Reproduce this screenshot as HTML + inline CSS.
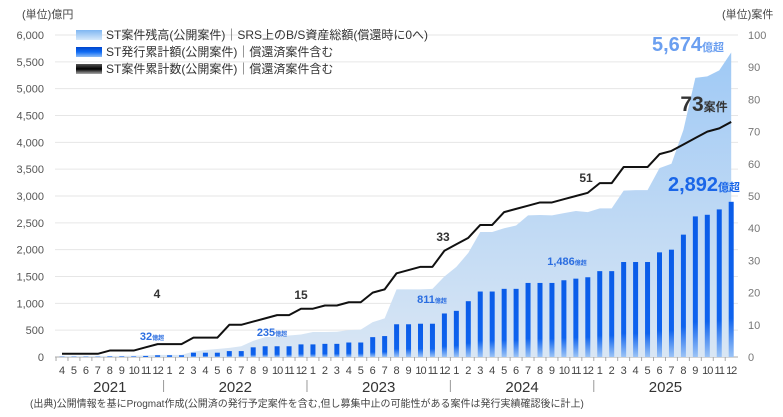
<!DOCTYPE html>
<html><head><meta charset="utf-8">
<style>
body{margin:0;background:#fff;}
svg text{font-family:"Liberation Sans","Noto Sans CJK JP",sans-serif;}
</style></head>
<body>
<svg id="chart" width="783" height="412" viewBox="0 0 783 412" xmlns="http://www.w3.org/2000/svg">
<defs>
<linearGradient id="gArea" x1="0" y1="0" x2="0" y2="1"><stop offset="0" stop-color="#9fc9f5"/><stop offset="1" stop-color="#d9e6f4"/></linearGradient>
<linearGradient id="gBar" x1="0" y1="0" x2="0" y2="1"><stop offset="0" stop-color="#0a5ce8"/><stop offset="0.75" stop-color="#0e63ee"/><stop offset="1" stop-color="#9cc4f6"/></linearGradient>
<linearGradient id="gL1" x1="0" y1="0" x2="0" y2="1"><stop offset="0" stop-color="#7fb6f2"/><stop offset="1" stop-color="#d6e9fb"/></linearGradient>
<linearGradient id="gL2" x1="0" y1="0" x2="0" y2="1"><stop offset="0" stop-color="#0044cc"/><stop offset="0.5" stop-color="#0f6cf5"/><stop offset="1" stop-color="#8cbcf6"/></linearGradient>
<linearGradient id="gL3" x1="0" y1="0" x2="0" y2="1"><stop offset="0" stop-color="#555"/><stop offset="0.5" stop-color="#000"/><stop offset="1" stop-color="#aaa"/></linearGradient>
</defs>
<g id="grid"></g>
<g id="area"></g>
<g id="bars"></g>
<g id="line"></g>
<g id="axes"></g>
<g id="labels"></g>
<text x="22" y="18" font-size="11" fill="#444">(単位)億円</text>
<text x="722" y="18" font-size="11" fill="#444">(単位)案件</text>
<g>
<rect x="76" y="30" width="26" height="10" fill="url(#gL1)"/>
<text x="106" y="39" font-size="12" fill="#333">ST案件残高(公開案件)｜SRS上のB/S資産総額(償還時に0へ)</text>
<rect x="76" y="47" width="26" height="10" fill="url(#gL2)"/>
<text x="106" y="56" font-size="12" fill="#333">ST発行累計額(公開案件)｜償還済案件含む</text>
<rect x="76" y="64" width="26" height="10" fill="url(#gL3)"/>
<text x="106" y="73" font-size="12" fill="#333">ST案件累計数(公開案件)｜償還済案件含む</text>
</g>
<text x="30" y="407" font-size="10" fill="#444">(出典)公開情報を基にProgmat作成(公開済の発行予定案件を含む,但し募集中止の可能性がある案件は発行実績確認後に計上)</text>
</svg>
<script>
const months = [4,5,6,7,8,9,10,11,12,1,2,3,4,5,6,7,8,9,10,11,12,1,2,3,4,5,6,7,8,9,10,11,12,1,2,3,4,5,6,7,8,9,10,11,12,1,2,3,4,5,6,7,8,9,10,11,12];
const years = ["2021","2022","2023","2024","2025"];
const issuance = [5,5,5,5,10,10,10,20,32, 32,32,80,80,80,110,110,180,200,200,200,235, 235,245,245,270,270,370,390,610,610,620,620,811, 860,1040,1220,1220,1270,1270,1380,1380,1380,1430,1460,1486, 1600,1600,1770,1770,1770,1950,2000,2280,2620,2650,2750,2892];
const outstanding = [20,20,20,20,20,20,25,30,40, 40,40,100,130,150,170,200,300,370,380,400,420, 465,465,470,500,510,650,720,1260,1260,1260,1270,1500, 1680,1940,2330,2330,2400,2450,2640,2645,2640,2680,2720,2700, 2770,2770,3100,3110,3110,3520,3600,4230,5200,5230,5340,5674];
const counts = [1,1,1,1,2,2,2,3,4, 4,4,6,6,6,10,10,11,12,13,13,15, 15,16,16,17,17,20,21,26,27,28,28,33, 35,37,41,41,45,46,47,48,48,49,50,51, 54,54,59,59,59,63,64,66,68,70,71,73];
const leftTicks = [0,500,1000,1500,2000,2500,3000,3500,4000,4500,5000,5500,6000];
const rightTicks = [0,10,20,30,40,50,60,70,80,90,100];

const NS="http://www.w3.org/2000/svg";
const X0=62, STEP=11.95, Y0=357, Y1=35;
const x = i => X0 + i*STEP;
const yL = v => Y0 - v/6000*(Y0-Y1);
const yR = v => Y0 - v/100*(Y0-Y1);
function mk(tag, attrs, parent){const e=document.createElementNS(NS,tag);for(const k in attrs)e.setAttribute(k,attrs[k]);document.getElementById(parent).appendChild(e);return e;}

leftTicks.forEach(t=>{
  const g=mk('line',{x1:55,x2:738,y1:yL(t),y2:yL(t),stroke:t===0?'#aaa':'#e6e6e6','stroke-width':1},'grid');
  
  
  const tx=mk('text',{x:44,y:yL(t)+4,'font-size':11,fill:'#555','text-anchor':'end'},'axes');
  tx.textContent=t.toLocaleString('en-US');
  
  
});
rightTicks.forEach(t=>{
  const tx=mk('text',{x:748,y:yR(t)+4,'font-size':11,fill:'#777'},'axes');
  tx.textContent=t;
  
  
});
// area
let d='M'+x(0)+','+Y0;
outstanding.forEach((v,i)=>{d+=' L'+x(i)+','+yL(v);});
d+=' L'+x(outstanding.length-1)+','+Y0+' Z';
const ar=mk('path',{d:d,fill:'url(#gArea)'},'area');


// bars
issuance.forEach((v,i)=>{
  const b=mk('rect',{x:x(i)-2.5,y:yL(v),width:5,height:Y0-yL(v),fill:'url(#gBar)'},'bars');
  
  
});
// line
const pts=counts.map((v,i)=>x(i)+','+yR(v)).join(' ');
const ln=mk('polyline',{points:pts,fill:'none',stroke:'#111','stroke-width':2,'stroke-linejoin':'round'},'line');


// x axis
months.forEach((m,i)=>{
  const tk=mk('line',{x1:x(i)-STEP/2,x2:x(i)-STEP/2,y1:Y0,y2:Y0+4,stroke:'#aaa'},'axes');
  
  
  const t=mk('text',{x:x(i),y:374,'font-size':11,fill:'#444','text-anchor':'middle','letter-spacing':m>9?'-1':'0'},'axes');
  t.textContent=m;
  
  
});
const yStart=[0,9,21,33,45], yEnd=[8,20,32,44,56];
years.forEach((yy,k)=>{
  const t=mk('text',{x:(x(yStart[k])+x(yEnd[k]))/2,y:392,'font-size':15,fill:'#333','text-anchor':'middle'},'axes');
  t.textContent=yy;
  
  
  if(k>0){
    const s=mk('line',{x1:x(yStart[k])-STEP/2,x2:x(yStart[k])-STEP/2,y1:380,y2:392,stroke:'#999'},'axes');
    
    
  }
});
// annotations
function ann(txt,sub,xx,yy,size,color,name){
  const t=mk('text',{x:xx,y:yy,'font-size':size,'font-weight':'bold',fill:color,'text-anchor':'middle'},'labels');
  t.textContent=txt;
  if(sub){const s=document.createElementNS(NS,'tspan');s.setAttribute('font-size',Math.round(size*0.55));s.textContent=sub;t.appendChild(s);}
  
  
}
ann('4','',157,298,12,'#333','count-label-2021');
ann('32','億超',152,340,11,'#2a6de0','issuance-label-2021');
ann('15','',301,299,12,'#333','count-label-2022');
ann('235','億超',272,336,11,'#2a6de0','issuance-label-2022');
ann('33','',443,241,12,'#333','count-label-2023');
ann('811','億超',432,303,11,'#2a6de0','issuance-label-2023');
ann('51','',586,182,12,'#333','count-label-2024');
ann('1,486','億超',567,265,11,'#2a6de0','issuance-label-2024');
ann('5,674','億超',688,51,20,'#6b9ff0','outstanding-label-2025');
ann('73','案件',704,111,21,'#333','count-label-2025');
ann('2,892','億超',704,191,20,'#1a66e8','issuance-label-2025');
</script>
</body></html>
